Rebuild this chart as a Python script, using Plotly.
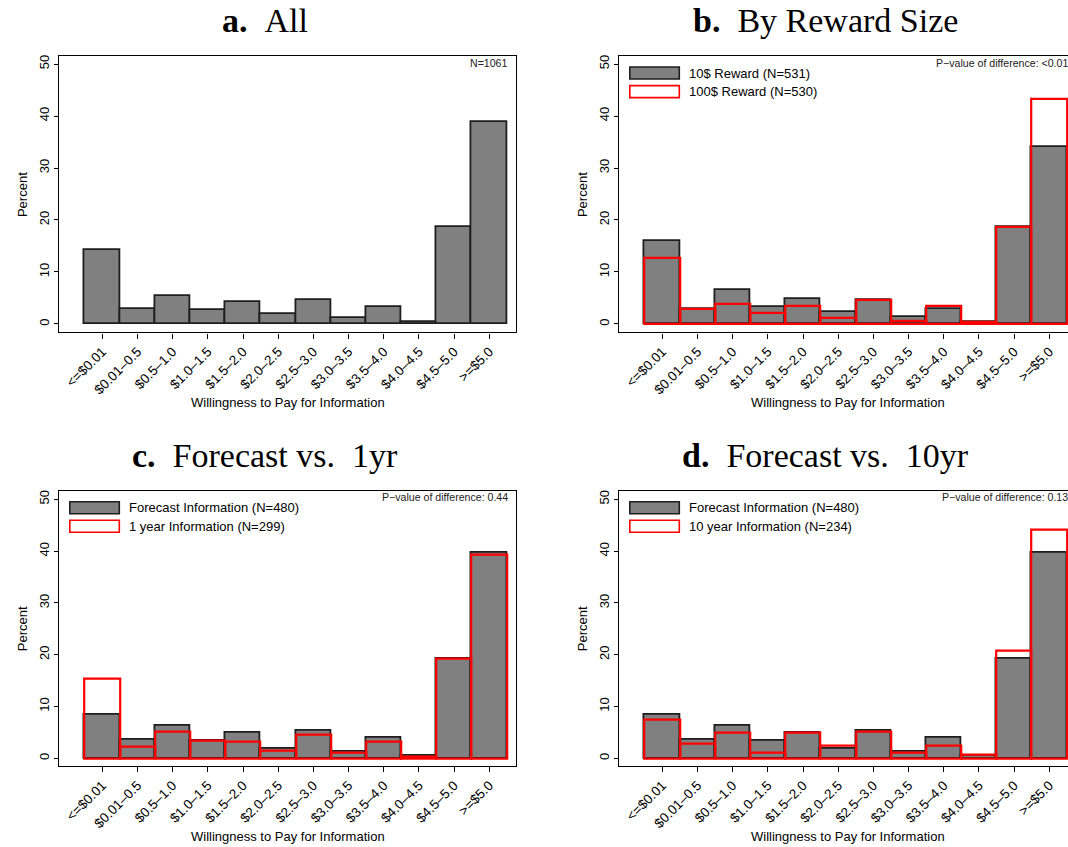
import plotly.graph_objects as go

# ---------------- data ----------------
categories = ["<=$0.01", "$0.01\u20130.5", "$0.5\u20131.0", "$1.0\u20131.5", "$1.5\u20132.0",
              "$2.0\u20132.5", "$2.5\u20133.0", "$3.0\u20133.5", "$3.5\u20134.0", "$4.0\u20134.5",
              "$4.5\u20135.0", ">=$5.0"]
all_pct = [14.2, 2.9, 5.4, 2.7, 4.2, 1.9, 4.7, 1.1, 3.3, 0.4, 18.6, 38.8]
reward10_pct = [15.9, 2.8, 6.6, 3.2, 4.9, 2.4, 4.6, 1.3, 2.8, 0.4, 18.6, 34.1]
reward100_pct = [12.6, 2.8, 3.9, 2.2, 3.4, 1.1, 4.6, 0.6, 3.5, 0.4, 18.6, 43.3]
forecast_pct = [8.5, 3.6, 6.2, 3.4, 4.9, 1.9, 5.4, 1.3, 4.0, 0.5, 19.2, 39.6]
year1_pct = [15.3, 2.2, 5.1, 3.4, 3.2, 1.5, 4.6, 1.0, 3.2, 0.3, 19.2, 39.3]
year10_pct = [7.5, 2.8, 5.0, 1.1, 4.9, 2.4, 5.1, 1.0, 2.4, 0.6, 20.8, 44.2]
y_ticks = [0, 10, 20, 30, 40, 50]

titles = ["<b>a.</b>\u00a0\u00a0All", "<b>b.</b>\u00a0\u00a0By Reward Size",
          "<b>c.</b>\u00a0\u00a0Forecast vs.\u00a0\u00a01yr", "<b>d.</b>\u00a0\u00a0Forecast vs.\u00a0\u00a010yr"]
notes = ["N=1061", "P\u2212value of difference: <0.01",
         "P\u2212value of difference: 0.44", "P\u2212value of difference: 0.13"]
legend_names = [None, ("10$ Reward (N=531)", "100$ Reward (N=530)"),
                ("Forecast Information (N=480)", "1 year Information (N=299)"),
                ("Forecast Information (N=480)", "10 year Information (N=234)")]
base_series = [all_pct, reward10_pct, forecast_pct, forecast_pct]
comp_series = [None, reward100_pct, year1_pct, year10_pct]
x_title = "Willingness to Pay for Information"
y_title = "Percent"

# ---------------- layout helpers ----------------
W, H = 1068, 847
GRAY = "#808080"
EDGE = "#1e1e1e"
RED = "#ff0000"
SANS = "Liberation Sans, Arial, sans-serif"
SERIF = "Liberation Serif, Times New Roman, serif"

def px(x):
    return x / W

def py(y):
    return 1 - y / H

frame_w = 456.4
x_full = (-1.222, 11.75)
rows = [dict(top=56.0, bottom=332.3, yr=[-1.6, 51.54]),
        dict(top=490.7, bottom=766.0, yr=[-1.49, 51.66])]
cols = [59.3, 619.3]

fig = go.Figure()
idx = list(range(len(categories)))
annotations = []
shapes = []

for p in range(4):
    r = rows[p // 2]
    left = cols[p % 2]
    right = left + frame_w
    vis_right = min(right, W)
    xr_right = x_full[0] + (vis_right - left) / frame_w * (x_full[1] - x_full[0])
    n = p + 1
    xa = "x" if n == 1 else f"x{n}"
    ya = "y" if n == 1 else f"y{n}"
    xkey = "xaxis" if n == 1 else f"xaxis{n}"
    ykey = "yaxis" if n == 1 else f"yaxis{n}"

    fig.add_trace(go.Bar(x=idx, y=base_series[p], width=1.0, xaxis=xa, yaxis=ya,
                         marker=dict(color=GRAY, line=dict(color=EDGE, width=1.8)),
                         showlegend=False, hoverinfo="skip"))
    if comp_series[p] is not None:
        fig.add_trace(go.Bar(x=idx, y=comp_series[p], width=1.0, xaxis=xa, yaxis=ya,
                             marker=dict(color="rgba(0,0,0,0)", line=dict(color=RED, width=2.2)),
                             showlegend=False, hoverinfo="skip"))

    clipped = right > W
    fig.layout[xkey] = dict(
        domain=[px(left), px(vis_right)], range=[x_full[0], xr_right], anchor=ya,
        tickmode="array", tickvals=idx, ticktext=categories, tickangle=-45,
        ticks="outside", ticklen=5, tickwidth=1.2, tickcolor="black",
        showline=True, linecolor="black", linewidth=1.4, mirror=True,
        showgrid=False, zeroline=False,
        tickfont=dict(family=SANS, size=13.5, color="black"),
    )
    fig.layout[ykey] = dict(
        domain=[py(r["bottom"]), py(r["top"])], range=r["yr"], anchor=xa,
        tickmode="array", tickvals=y_ticks, tickangle=-90,
        ticks="outside", ticklen=4, tickwidth=1.2, tickcolor="black",
        showline=True, linecolor="black", linewidth=1.4, mirror=not clipped,
        showgrid=False, zeroline=False,
        tickfont=dict(family=SANS, size=13, color="black"),
    )

    # panel title
    annotations.append(dict(text=titles[p], x=px(left + 205.8), y=py(r["top"] - 35.5),
                            xref="paper", yref="paper", xanchor="center", yanchor="middle",
                            showarrow=False, font=dict(family=SERIF, size=34, color="black")))
    # note (N / p-value)
    annotations.append(dict(text=notes[p], x=px(right - 5.8), y=py(r["top"] + 6.7),
                            xref="paper", yref="paper", xanchor="right", yanchor="middle",
                            showarrow=False, font=dict(family=SANS, size=10.6, color="#222")))
    # axis titles
    annotations.append(dict(text=x_title, x=px(left + frame_w / 2), y=py(r["bottom"] + 70.5),
                            xref="paper", yref="paper", xanchor="center", yanchor="middle",
                            showarrow=False, font=dict(family=SANS, size=13, color="black")))
    annotations.append(dict(text=y_title, x=px(left - 37.4), y=py((r["top"] + r["bottom"]) / 2),
                            xref="paper", yref="paper", xanchor="center", yanchor="middle",
                            textangle=-90, showarrow=False,
                            font=dict(family=SANS, size=13, color="black")))
    # legend
    if legend_names[p] is not None:
        for k, (name, fill, edge) in enumerate([(legend_names[p][0], GRAY, EDGE),
                                                (legend_names[p][1], "white", RED)]):
            y0 = r["top"] + 11 + k * 18.6
            shapes.append(dict(type="rect", xref="paper", yref="paper",
                               x0=px(left + 10.5), x1=px(left + 60), y0=py(y0), y1=py(y0 + 12),
                               fillcolor=fill, line=dict(color=edge, width=1.6)))
            annotations.append(dict(text=name, x=px(left + 68), y=py(y0 + 6),
                                    xref="paper", yref="paper", xanchor="left", yanchor="middle",
                                    showarrow=False, font=dict(family=SANS, size=13, color="black")))

fig.update_layout(
    width=W, height=H, margin=dict(l=0, r=0, t=0, b=0),
    paper_bgcolor="white", plot_bgcolor="white",
    barmode="overlay", bargap=0, showlegend=False,
    annotations=annotations, shapes=shapes,
)

fig.write_html("out.html", config={"displayModeBar": False},
               post_script="document.body.style.margin='0';document.body.style.overflow='hidden';")
